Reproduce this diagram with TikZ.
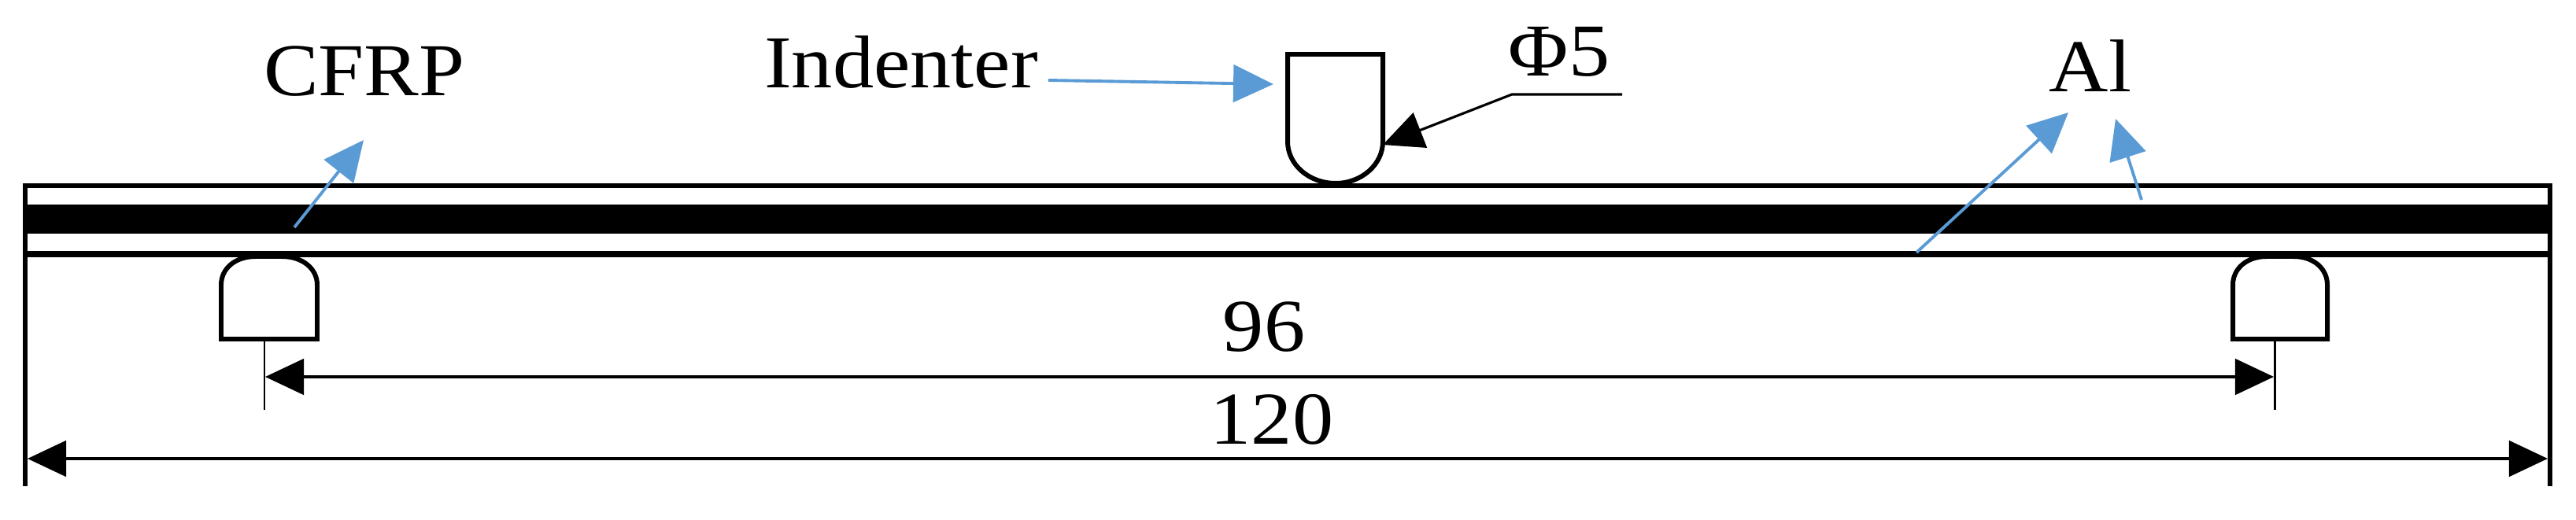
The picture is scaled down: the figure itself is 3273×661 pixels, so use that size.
\documentclass[tikz,border=0pt]{standalone}
\usepackage{fontspec}
\setmainfont{Liberation Serif}[FakeStretch=1.1]
\usetikzlibrary{arrows.meta,positioning,calc}
\definecolor{leaderblue}{HTML}{5B9BD5}

\begin{document}
\begin{tikzpicture}[
  x=0.02cm, y=-0.02cm,
  lbl/.style={font=\fontsize{54}{60}\selectfont, inner sep=0pt, anchor=base},
  part/.style={draw, line width=3.4pt, line join=miter},
  thin part/.style={draw, line width=1.7pt},
  dimarr/.style={{Triangle[length=28pt,width=26pt]}-{Triangle[length=28pt,width=26pt]}, line width=1.8pt},
  bluearr/.style={-{Triangle[length=29pt,width=27pt]}, leaderblue, line width=2.2pt},
  blackarr/.style={-{Triangle[length=29pt,width=27pt]}, line width=1.8pt}
]
\useasboundingbox (0,0) rectangle (3273,661);

% laminate
\fill (32,260) rectangle (3240,297);
\draw[part] (32,618) -- (32,236) -- (3240,236) -- (3240,618);
\draw[line width=4.2pt] (32,323) -- (3240,323);

% indenter and supports
\draw[part] (1636,180) -- (1636,69) -- (1757,69) -- (1757,180)
  .. controls (1757,209) and (1730,233) .. (1697,233)
  .. controls (1663,233) and (1636,209) .. (1636,180);
\draw[part] (281,431) -- (281,362) .. controls (281,342) and (298,326) .. (325,326)
  -- (358,326) .. controls (385,326) and (403,342) .. (403,362) -- (403,431) -- cycle;
\draw[part] (2837,431) -- (2837,362) .. controls (2837,342) and (2854,326) .. (2880,326)
  -- (2914,326) .. controls (2940,326) and (2957,342) .. (2957,362) -- (2957,431) -- cycle;
\draw[thin part] (336,431) -- (336,521);
\draw[thin part] (2890,431) -- (2890,521);

% labels
\node[lbl] (cfrp) at (463,122) {CFRP};
\node[lbl] (ind) at (1145,112) {Indenter};
\node[lbl] (phi) at (1981,97) {Φ5};
\node[lbl] (al) at (2656,117) {Al};
\node[lbl] (d96) at (1606,447) {96};
\node[lbl] (d120) at (1616,565) {120};

% leaders
\coordinate (cfrpS) at (374,289);
\coordinate (cfrpE) at (462,178);
\coordinate (indS) at (1332,102);
\coordinate (indE) at (1618,107);
\coordinate (alS) at (2435,321);
\coordinate (alE) at (2628,143);
\coordinate (alSb) at (2721,254);
\coordinate (alEb) at (2688,151);
\draw[bluearr] (cfrpS) -- (cfrpE);
\draw[bluearr] (indS) -- (indE);
\draw[bluearr] (alS) -- (alE);
\draw[bluearr] (alSb) -- (alEb);

\coordinate (phiR) at (2061,120);
\coordinate (phiL) at (1921,120);
\coordinate (phiE) at (1757,184);
\draw[blackarr] (phiR) -- (phiL) -- (phiE);

% dimensions
\coordinate (aL) at (337,479);
\coordinate (aR) at (2889,479);
\coordinate (bL) at (35,583);
\coordinate (bR) at (3237,583);
\draw[dimarr] (aL) -- (aR);
\draw[dimarr] (bL) -- (bR);

\end{tikzpicture}
\end{document}
